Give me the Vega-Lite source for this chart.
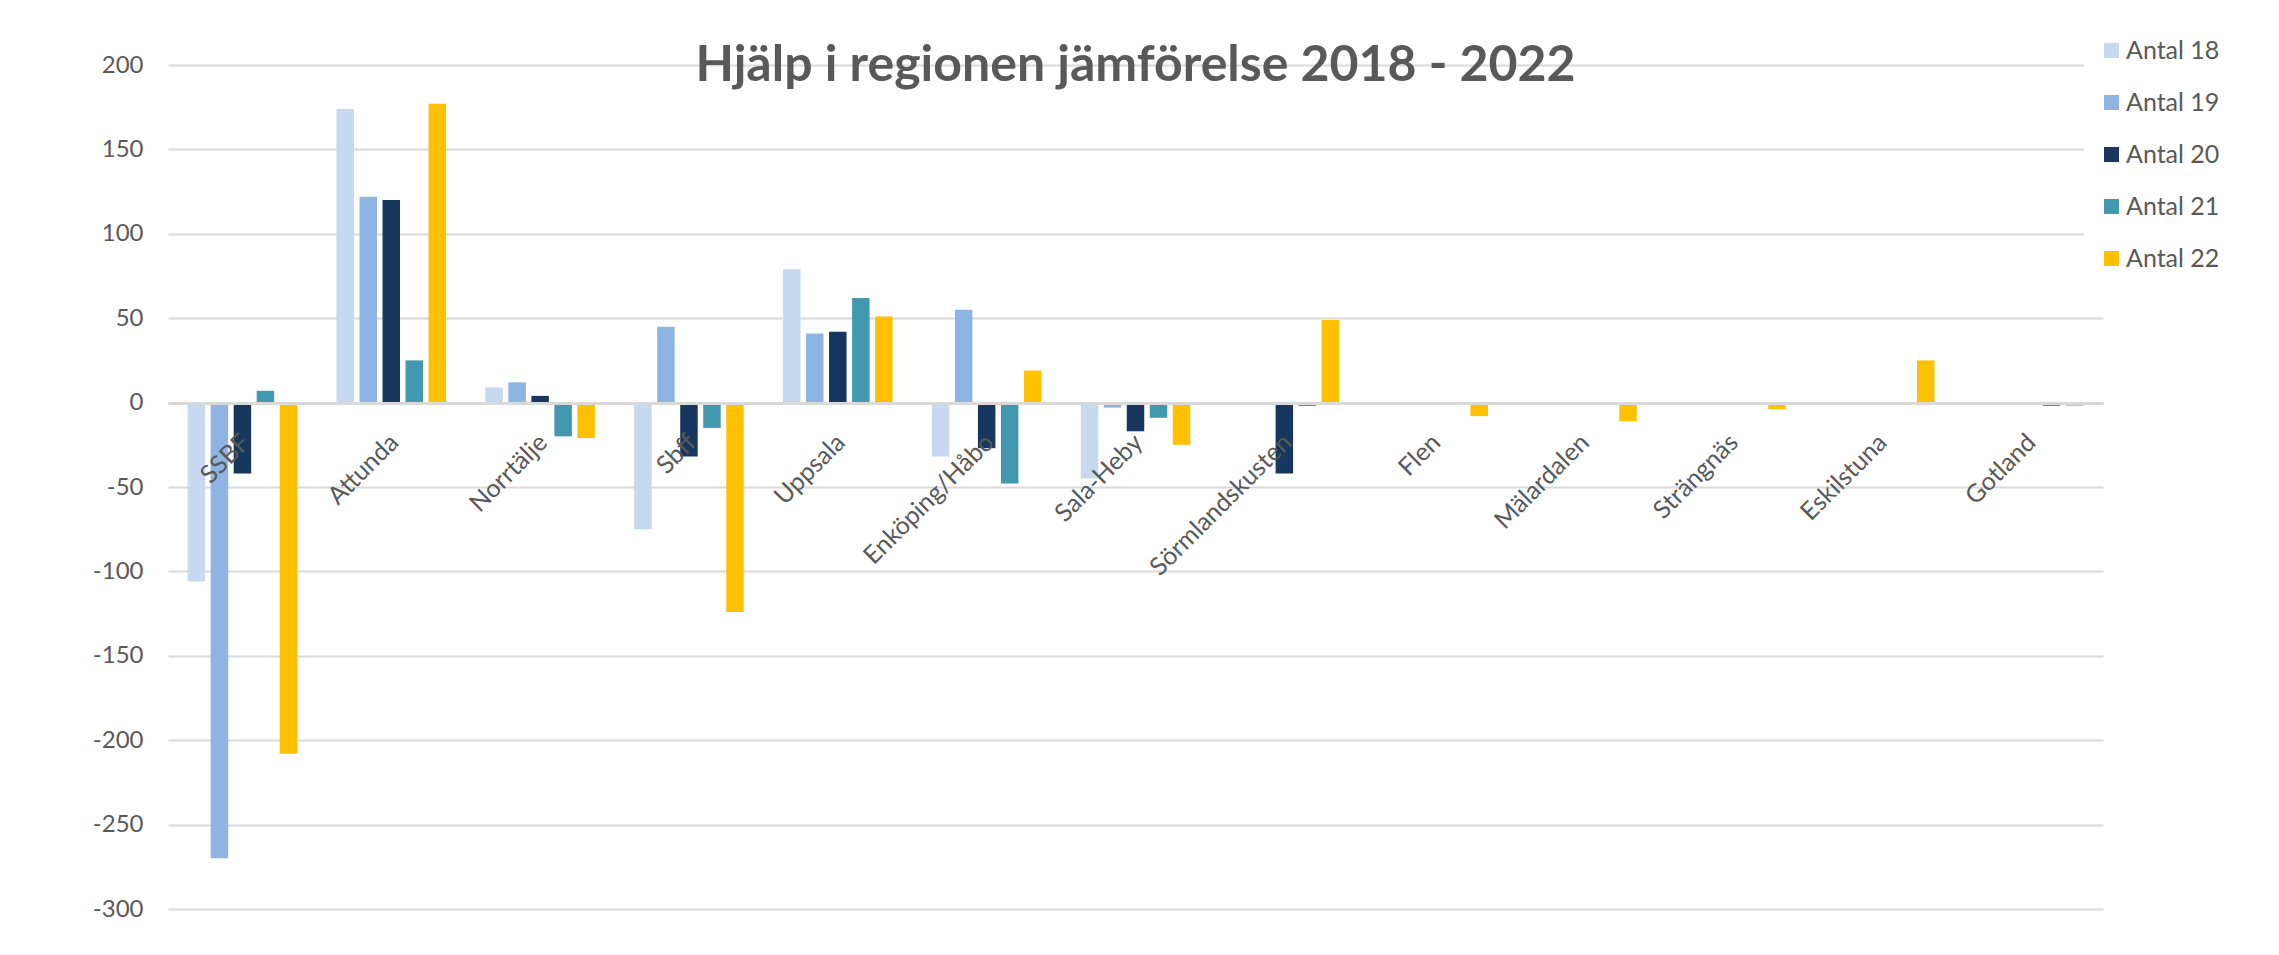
{
  "$schema": "https://vega.github.io/schema/vega-lite/v6.json",
  "autosize": {"type": "none"},
  "padding": {"left": 168, "top": 65, "right": 176, "bottom": 46},
  "width": 1935,
  "height": 844,
  "background": "white",
  "title": {
    "text": "Hjälp i regionen jämförelse 2018 - 2022",
    "font": "Lato",
    "fontSize": 50,
    "fontWeight": "bold",
    "color": "#595959",
    "anchor": "middle",
    "frame": "group",
    "baseline": "alphabetic",
    "offset": -108
  },
  "data": {
    "values": [
      {"region": "SSBF", "serie": "Antal 18", "value": -106},
      {"region": "SSBF", "serie": "Antal 19", "value": -270},
      {"region": "SSBF", "serie": "Antal 20", "value": -42},
      {"region": "SSBF", "serie": "Antal 21", "value": 7},
      {"region": "SSBF", "serie": "Antal 22", "value": -208},
      {"region": "Attunda", "serie": "Antal 18", "value": 174},
      {"region": "Attunda", "serie": "Antal 19", "value": 122},
      {"region": "Attunda", "serie": "Antal 20", "value": 120},
      {"region": "Attunda", "serie": "Antal 21", "value": 25},
      {"region": "Attunda", "serie": "Antal 22", "value": 177},
      {"region": "Norrtälje", "serie": "Antal 18", "value": 9},
      {"region": "Norrtälje", "serie": "Antal 19", "value": 12},
      {"region": "Norrtälje", "serie": "Antal 20", "value": 4},
      {"region": "Norrtälje", "serie": "Antal 21", "value": -20},
      {"region": "Norrtälje", "serie": "Antal 22", "value": -21},
      {"region": "Sbff", "serie": "Antal 18", "value": -75},
      {"region": "Sbff", "serie": "Antal 19", "value": 45},
      {"region": "Sbff", "serie": "Antal 20", "value": -32},
      {"region": "Sbff", "serie": "Antal 21", "value": -15},
      {"region": "Sbff", "serie": "Antal 22", "value": -124},
      {"region": "Uppsala", "serie": "Antal 18", "value": 79},
      {"region": "Uppsala", "serie": "Antal 19", "value": 41},
      {"region": "Uppsala", "serie": "Antal 20", "value": 42},
      {"region": "Uppsala", "serie": "Antal 21", "value": 62},
      {"region": "Uppsala", "serie": "Antal 22", "value": 51},
      {"region": "Enköping/Håbo", "serie": "Antal 18", "value": -32},
      {"region": "Enköping/Håbo", "serie": "Antal 19", "value": 55},
      {"region": "Enköping/Håbo", "serie": "Antal 20", "value": -27},
      {"region": "Enköping/Håbo", "serie": "Antal 21", "value": -48},
      {"region": "Enköping/Håbo", "serie": "Antal 22", "value": 19},
      {"region": "Sala-Heby", "serie": "Antal 18", "value": -45},
      {"region": "Sala-Heby", "serie": "Antal 19", "value": -3},
      {"region": "Sala-Heby", "serie": "Antal 20", "value": -17},
      {"region": "Sala-Heby", "serie": "Antal 21", "value": -9},
      {"region": "Sala-Heby", "serie": "Antal 22", "value": -25},
      {"region": "Sörmlandskusten", "serie": "Antal 18", "value": 0},
      {"region": "Sörmlandskusten", "serie": "Antal 19", "value": 0},
      {"region": "Sörmlandskusten", "serie": "Antal 20", "value": -42},
      {"region": "Sörmlandskusten", "serie": "Antal 21", "value": -2},
      {"region": "Sörmlandskusten", "serie": "Antal 22", "value": 49},
      {"region": "Flen", "serie": "Antal 18", "value": 0},
      {"region": "Flen", "serie": "Antal 19", "value": 0},
      {"region": "Flen", "serie": "Antal 20", "value": 0},
      {"region": "Flen", "serie": "Antal 21", "value": 0},
      {"region": "Flen", "serie": "Antal 22", "value": -8},
      {"region": "Mälardalen", "serie": "Antal 18", "value": 0},
      {"region": "Mälardalen", "serie": "Antal 19", "value": 0},
      {"region": "Mälardalen", "serie": "Antal 20", "value": 0},
      {"region": "Mälardalen", "serie": "Antal 21", "value": 0},
      {"region": "Mälardalen", "serie": "Antal 22", "value": -11},
      {"region": "Strängnäs", "serie": "Antal 18", "value": 0},
      {"region": "Strängnäs", "serie": "Antal 19", "value": 0},
      {"region": "Strängnäs", "serie": "Antal 20", "value": 0},
      {"region": "Strängnäs", "serie": "Antal 21", "value": 0},
      {"region": "Strängnäs", "serie": "Antal 22", "value": -4},
      {"region": "Eskilstuna", "serie": "Antal 18", "value": 0},
      {"region": "Eskilstuna", "serie": "Antal 19", "value": 0},
      {"region": "Eskilstuna", "serie": "Antal 20", "value": 0},
      {"region": "Eskilstuna", "serie": "Antal 21", "value": 0},
      {"region": "Eskilstuna", "serie": "Antal 22", "value": 25},
      {"region": "Gotland", "serie": "Antal 18", "value": 0},
      {"region": "Gotland", "serie": "Antal 19", "value": 0},
      {"region": "Gotland", "serie": "Antal 20", "value": 0},
      {"region": "Gotland", "serie": "Antal 21", "value": -2},
      {"region": "Gotland", "serie": "Antal 22", "value": -2}
    ]
  },
  "mark": {"type": "bar"},
  "encoding": {
    "x": {
      "field": "region",
      "type": "nominal",
      "sort": null,
      "scale": {"paddingInner": 0.264, "paddingOuter": 0.132},
      "axis": {
        "title": null,
        "orient": "bottom",
        "offset": -506,
        "zindex": 1,
        "labelAngle": -45,
        "labelAlign": "right",
        "labelBaseline": "middle",
        "labelPadding": 35,
        "labelOffset": 3,
        "labelFont": "Lato",
        "labelFontSize": 25,
        "labelColor": "#595959",
        "labelLimit": 1000,
        "ticks": false,
        "domain": true,
        "domainColor": "#d9d9d9",
        "domainWidth": 3,
        "grid": false
      }
    },
    "xOffset": {
      "field": "serie",
      "type": "nominal",
      "sort": ["Antal 18", "Antal 19", "Antal 20", "Antal 21", "Antal 22"],
      "scale": {"paddingInner": 0.24, "paddingOuter": 0}
    },
    "y": {
      "field": "value",
      "type": "quantitative",
      "scale": {"domain": [-300, 200], "nice": false},
      "axis": {
        "title": null,
        "values": [-300, -250, -200, -150, -100, -50, 0, 50, 100, 150, 200],
        "labelExpr": "replace(datum.label, '−', '-')",
        "grid": true,
        "gridColor": "#d9d9d9",
        "gridWidth": 2,
        "domain": false,
        "ticks": false,
        "labelFont": "Lato",
        "labelFontSize": 24,
        "labelColor": "#595959",
        "labelPadding": 25
      }
    },
    "color": {
      "field": "serie",
      "type": "nominal",
      "scale": {
        "domain": ["Antal 18", "Antal 19", "Antal 20", "Antal 21", "Antal 22"],
        "range": ["#c6d9f1", "#8eb4e3", "#17375e", "#4198af", "#ffc000"]
      },
      "legend": {
        "title": null,
        "orient": "none",
        "legendX": 1916,
        "legendY": -42,
        "symbolType": "square",
        "symbolSize": 225,
        "symbolStrokeWidth": 0,
        "labelFont": "Lato",
        "labelFontSize": 25,
        "labelColor": "#595959",
        "labelOffset": 2,
        "rowPadding": 26,
        "padding": 15,
        "fillColor": "white"
      }
    }
  },
  "config": {"view": {"stroke": null}}
}
